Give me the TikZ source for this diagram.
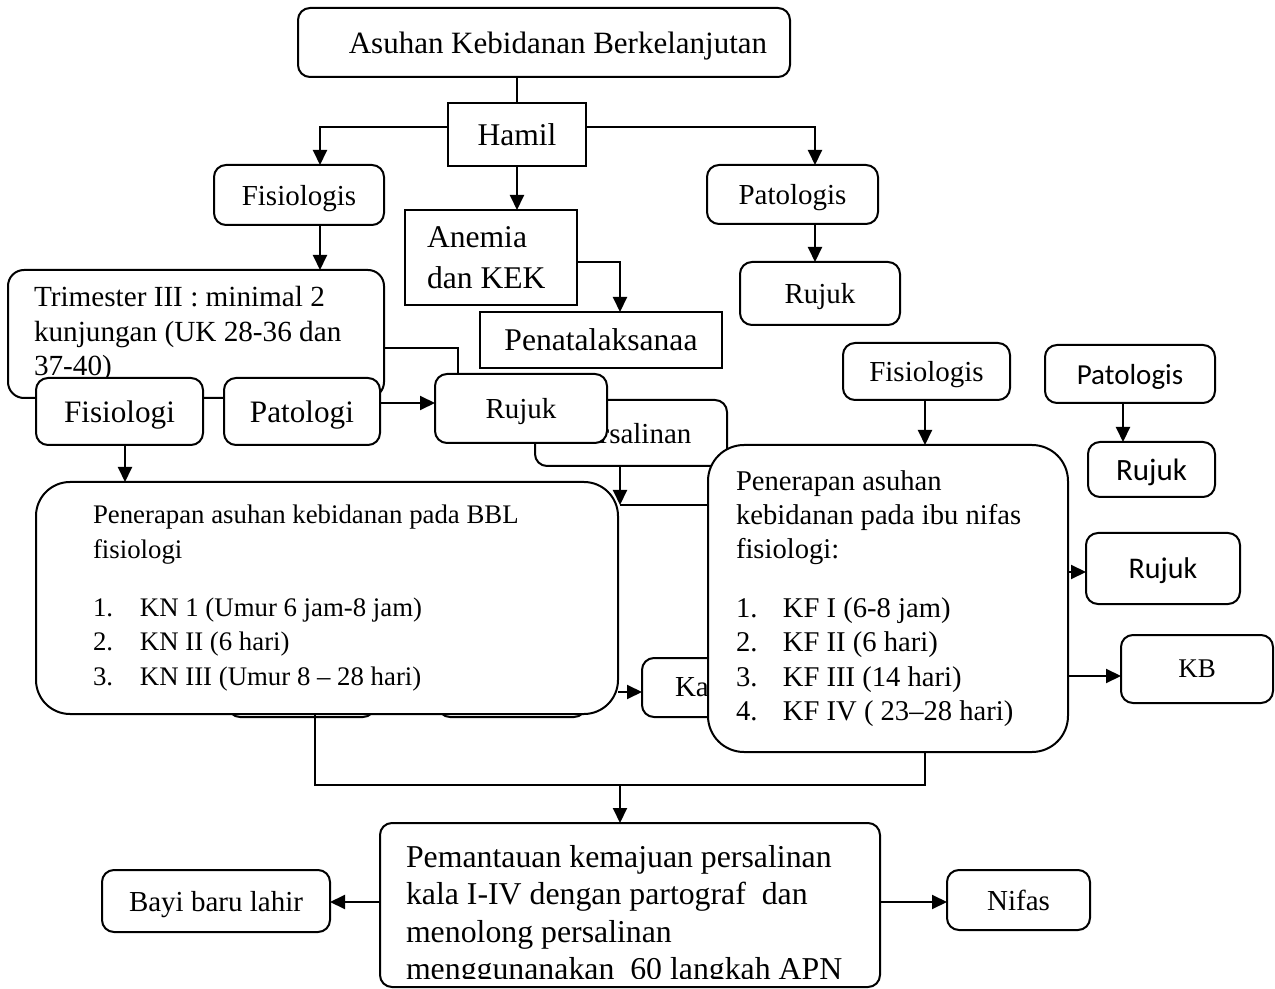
\documentclass[tikz,border=0pt]{standalone}
\usepackage{fontspec}
\setmainfont{Liberation Serif}
\newfontfamily\calfont{Carlito}
\usetikzlibrary{arrows.meta,positioning}

\begin{document}
\begin{tikzpicture}[
    x=0.5pt, y=-0.5pt,
    line width=1pt,
 mybox/.style = {
        draw, rectangle, rounded corners=6pt, align=center,
        fill=white, inner sep=2pt, outer sep=0pt, text depth=0pt,
        font=\fontsize{14.5pt}{17pt}\selectfont},
 sqbox/.style = {mybox, sharp corners},
bigbox/.style = {mybox, rounded corners=17pt, align=flush left, text depth=},
 arrow/.style = {-{Triangle[length=7.5pt,width=7pt]}}
                    ]
\useasboundingbox (0,0) rectangle (1275,989);
% the nodes at the top
\node (n1) [mybox, minimum width=246pt, minimum height=34.5pt,
            font=\fontsize{15.5pt}{18pt}\selectfont] at (544,42.5)
                {\hspace*{14pt}Asuhan Kebidanan Berkelanjutan};
\node (n2) [sqbox, minimum width=69pt, minimum height=31.5pt, text depth=,
            font=\fontsize{15.8pt}{19pt}\selectfont] at (517,134.5) {Hamil};
\node (n3a) [mybox, minimum width=85pt, minimum height=30pt] at (299,195) {Fisiologis};
\node (n3c) [mybox, minimum width=85.5pt, minimum height=29.5pt] at (792.5,194.5) {Patologis};
\node (n3b) [sqbox, align=flush left, text width=64pt, inner xsep=11pt, minimum height=47.5pt,
             text depth=, font=\fontsize{15.8pt}{20.5pt}\selectfont] at (491,257.5) {Anemia\\ dan KEK};
\node (n4c) [mybox, minimum width=80pt, minimum height=31.5pt] at (820,293.5) {Rujuk};
\node (n4b) [sqbox, minimum width=121pt, minimum height=28pt,
             font=\fontsize{15.8pt}{19pt}\selectfont] at (601,340) {Penatalaksanaa};
% the left branch
\node (n4a) [mybox, rounded corners=8pt, align=flush left, text width=162pt, inner xsep=13pt,
             minimum height=64pt, text depth=, font=\fontsize{14.6pt}{17.3pt}\selectfont] at (196,334)
                {Trimester III : minimal 2\\ kunjungan (UK 28-36 dan\\ 37-40)};
\node (n5a) [mybox, minimum width=83.5pt, minimum height=33.5pt,
             font=\fontsize{15.6pt}{19pt}\selectfont] at (119.5,411.5) {Fisiologi};
\node (n5b) [mybox, minimum width=78pt, minimum height=33.5pt,
             font=\fontsize{15.6pt}{19pt}\selectfont] at (302,411.5) {Patologi};
% the middle
\node (n5d) [mybox, minimum width=96pt, minimum height=33pt] at (631,433) {Persalinan};
\node (n5c) [mybox, minimum width=86pt, minimum height=34.5pt] at (521,408.5) {Rujuk};
% boxes hidden behind the BBL box
\node (n6b) [mybox, minimum width=73.5pt, minimum height=33.5pt] at (301.5,683.5) {};
\node (n6c) [mybox, minimum width=74pt, minimum height=33.5pt] at (512,683.5) {};
\node (n6a) [bigbox, text width=234pt, inner xsep=28.5pt, minimum height=116pt,
             font=\fontsize{13.4pt}{17.2pt}\selectfont] at (327,598)
                {Penerapan asuhan kebidanan pada BBL\\ fisiologi\\[12pt]
                 \makebox[23.5pt][l]{1.}KN 1 (Umur 6 jam-8 jam)\\
                 \makebox[23.5pt][l]{2.}KN II (6 hari)\\
                 \makebox[23.5pt][l]{3.}KN III (Umur 8 -- 28 hari)};
\node (n7) [mybox, align=flush left, text width=26pt, inner xsep=16.5pt,
            minimum height=29.5pt] at (701,687.5) {Ka};
% the nifas box
\node (n8) [bigbox, rounded corners=18pt, text width=152pt, inner xsep=14pt,
            minimum height=153.5pt, font=\fontsize{14.3pt}{17.2pt}\selectfont] at (888,598.5)
                {Penerapan asuhan\\ kebidanan pada ibu nifas\\ fisiologi:\\[12pt]
                 \makebox[23.5pt][l]{1.}KF I (6-8 jam)\\
                 \makebox[23.5pt][l]{2.}KF II (6 hari)\\
                 \makebox[23.5pt][l]{3.}KF III (14 hari)\\
                 \makebox[23.5pt][l]{4.}KF IV ( 23--28 hari)};
% the right column
\node (n9a) [mybox, minimum width=83.5pt, minimum height=28.5pt] at (926.5,371.5) {Fisiologis};
\node (n9b) [mybox, minimum width=85pt, minimum height=29pt,
             font=\calfont\fontsize{14.5pt}{17pt}\selectfont] at (1130,374) {Patologis};
\node (n10b) [mybox, minimum width=63.5pt, minimum height=27.5pt,
              font=\calfont\fontsize{15.5pt}{18pt}\selectfont] at (1151.5,469.5) {Rujuk};
\node (n10c) [mybox, minimum width=77pt, minimum height=35.5pt,
              font=\calfont\fontsize{15pt}{18pt}\selectfont] at (1163,568.5) {Rujuk};
\node (n10d) [mybox, minimum width=76pt, minimum height=34pt,
              font=\fontsize{13.5pt}{16pt}\selectfont] at (1197,669) {KB};
% the bottom row
\node (n11) [mybox, minimum width=250pt, minimum height=82pt] at (630,905) {};
    \begin{scope}
\clip (380,823) rectangle (880,978);
\node (n11t) [anchor=north west, inner sep=0pt, align=flush left,
              font=\fontsize{15.9pt}{18.8pt}\selectfont] at (405,844)
                {Pemantauan kemajuan persalinan\\ kala I-IV dengan partograf~ dan\\
                 menolong persalinan\\ menggunanakan~ 60 langkah APN};
    \end{scope}
\node (n12a) [mybox, minimum width=114pt, minimum height=31pt] at (216,901) {Bayi baru lahir};
\node (n12b) [mybox, minimum width=71.5pt, minimum height=30pt] at (1018.5,900) {Nifas};

% lines
\draw (n1.south -| n2.north) -- (n2.north);
\draw[arrow] (n2.west |- 0,127) -| (320,0 |- n3a.north);
\draw[arrow] (n2.east |- 0,127) -| (815,0 |- n3c.north);
\draw[arrow] (n2.south) -- (n2.south |- n3b.north);
\draw[arrow] (320,0 |- n3a.south) -- (320,0 |- n4a.north);
\draw[arrow] (815,0 |- n3c.south) -- (815,0 |- n4c.north);
\draw[arrow] (n3b.east |- 0,262) -| (620,0 |- n4b.north);
\draw (n4a.east |- 0,348) -| (458,0 |- n5c.north);
\draw[arrow] (n5b.east |- 0,403) -- (n5c.west |- 0,403);
\draw[arrow] (125,0 |- n5a.south) -- (125,0 |- n6a.north);
\coordinate (mj) at (620,505);
\draw[arrow] (620,0 |- n5d.south) -- (mj);
\draw (mj) -- (n8.west |- mj);
\draw[arrow] (n6a.east |- 0,692) -- (n7.west |- 0,692);
\coordinate (mb) at (620,785);
\draw (315,0 |- n6a.south) |- (mb) -| (925,0 |- n8.south);
\draw[arrow] (mb) -- (mb |- n11.north);
\draw[arrow] (925,0 |- n9a.south) -- (925,0 |- n8.north);
\draw[arrow] (1123,0 |- n9b.south) -- (1123,0 |- n10b.north);
\draw[arrow] (n8.east |- 0,572) -- (n10c.west |- 0,572);
\draw[arrow] (n8.east |- 0,676) -- (n10d.west |- 0,676);
\draw[arrow] (n11.west |- 0,902) -- (n12a.east |- 0,902);
\draw[arrow] (n11.east |- 0,902) -- (n12b.west |- 0,902);
\end{tikzpicture}
\end{document}
